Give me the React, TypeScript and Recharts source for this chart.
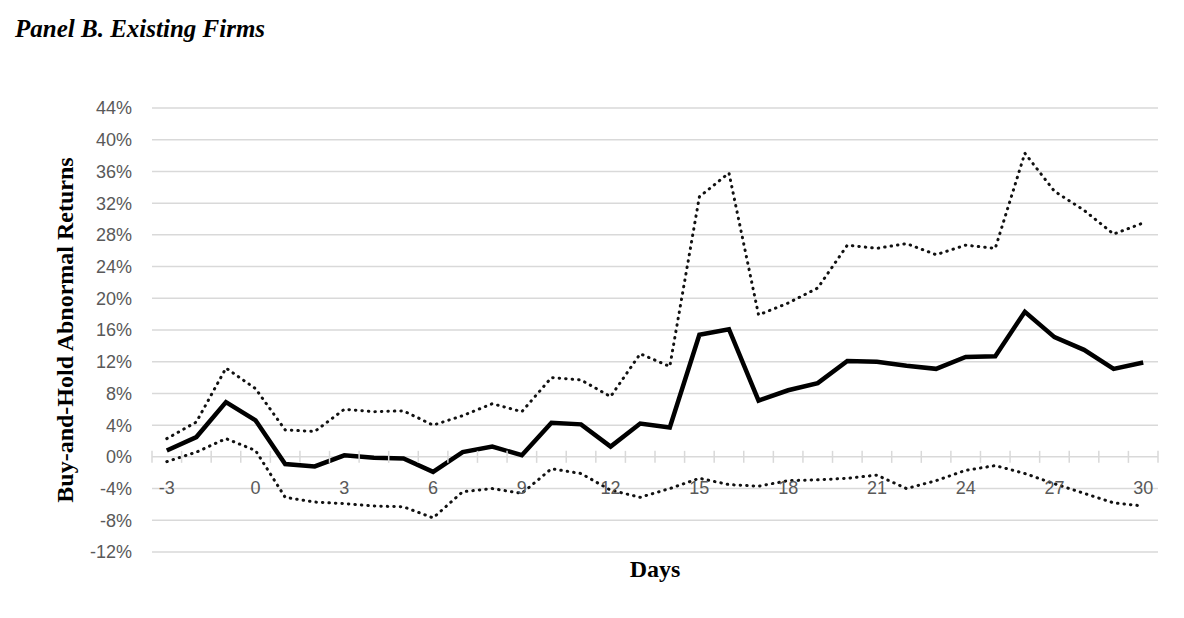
import React from "react";
import { LineChart, Line, XAxis, YAxis, CartesianGrid } from "recharts";

// days relative to the event
const days = [-3, -2, -1, 0, 1, 2, 3, 4, 5, 6, 7, 8, 9, 10, 11, 12, 13, 14, 15, 16, 17, 18, 19, 20, 21, 22, 23, 24, 25, 26, 27, 28, 29, 30];

// buy-and-hold abnormal returns (%), mean
const bhar = [0.8, 2.5, 6.9, 4.6, -0.9, -1.2, 0.2, -0.1, -0.2, -1.9, 0.6, 1.3, 0.2, 4.3, 4.1, 1.3, 4.2, 3.7, 15.4, 16.1, 7.1, 8.4, 9.3, 12.1, 12.0, 11.5, 11.1, 12.6, 12.7, 18.3, 15.1, 13.5, 11.1, 11.9];

// upper and lower confidence bounds (%)
const upper = [2.3, 4.4, 11.2, 8.6, 3.4, 3.2, 6.0, 5.7, 5.8, 4.0, 5.2, 6.7, 5.7, 10.0, 9.7, 7.6, 13.0, 11.4, 32.8, 35.8, 17.9, 19.4, 21.3, 26.7, 26.3, 26.9, 25.5, 26.7, 26.3, 38.3, 33.5, 31.1, 28.1, 29.5];
const lower = [-0.6, 0.6, 2.3, 0.8, -5.1, -5.7, -5.9, -6.2, -6.3, -7.7, -4.4, -4.0, -4.6, -1.5, -2.1, -4.2, -5.1, -4.0, -2.7, -3.5, -3.7, -3.0, -2.9, -2.7, -2.3, -4.0, -3.0, -1.7, -1.1, -2.1, -3.4, -4.6, -5.8, -6.2];

const yTicks = [-12, -8, -4, 0, 4, 8, 12, 16, 20, 24, 28, 32, 36, 40, 44];
const Y_MIN = -12;
const Y_MAX = 44;

const data = days.map((d, i) => ({ day: d, bhar: bhar[i], upper: upper[i], lower: lower[i] }));

const W = 1184;
const H = 618;
const M = { top: 108, right: 26, bottom: 36, left: 0 };
const Y_AXIS_W = 152;
const X_AXIS_H = 30;
const PLOT_W = W - M.left - M.right - Y_AXIS_W;
const PLOT_H = H - M.top - M.bottom - X_AXIS_H;
const ZERO_Y = M.top + (PLOT_H * Y_MAX) / (Y_MAX - Y_MIN);
const BAND = PLOT_W / days.length;

const GRID = "#d9d9d9";
const TICK_TXT = "#595959";
const SERIF = "Liberation Serif, Times New Roman, serif";

// Excel-style category axis drawn on the 0% line, marks between categories
function DayTick(props: any) {
  const { x, payload, index } = props;
  const marks = [x - BAND / 2];
  if (index === days.length - 1) marks.push(x + BAND / 2);
  return (
    <g>
      {marks.map((mx, k) => (
        <line key={k} x1={mx} x2={mx} y1={ZERO_Y - 6} y2={ZERO_Y + 6} stroke={GRID} strokeWidth={1.5} />
      ))}
      {payload.value % 3 === 0 && (
        <text x={x} y={ZERO_Y + 37} textAnchor="middle" fill={TICK_TXT} fontSize={18} fontFamily="Liberation Sans, Arial, sans-serif">
          {payload.value}
        </text>
      )}
    </g>
  );
}

export default function App() {
  return (
    <div style={{ position: "absolute", left: 0, top: 0, width: W, height: H, background: "#fff" }}>
      <div
        style={{
          position: "absolute",
          left: 15,
          top: 15,
          fontFamily: SERIF,
          fontWeight: "bold",
          fontStyle: "italic",
          fontSize: 25,
          color: "#000",
        }}
      >
        Panel B. Existing Firms
      </div>
      <LineChart width={W} height={H} data={data} margin={M}>
        <CartesianGrid vertical={false} stroke={GRID} strokeWidth={1.5} />
        <XAxis
          dataKey="day"
          height={X_AXIS_H}
          interval={0}
          padding={{ left: BAND / 2, right: BAND / 2 }}
          axisLine={false}
          tickLine={false}
          tick={<DayTick />}
          label={{
            value: "Days",
            position: "insideBottom",
            offset: 5,
            fill: "#000",
            fontSize: 24,
            fontWeight: "bold",
            fontFamily: SERIF,
          }}
        />
        <YAxis
          width={Y_AXIS_W}
          domain={[Y_MIN, Y_MAX]}
          ticks={yTicks}
          interval={0}
          tickFormatter={(v) => `${v}%`}
          axisLine={false}
          tickLine={false}
          tickMargin={14}
          tick={{ fill: TICK_TXT, fontSize: 18, fontFamily: "Liberation Sans, Arial, sans-serif" }}
          label={{
            value: "Buy-and-Hold Abnormal Returns",
            angle: -90,
            position: "insideLeft",
            offset: 64,
            fill: "#000",
            fontSize: 24,
            fontWeight: "bold",
            fontFamily: SERIF,
            style: { textAnchor: "middle" },
          }}
        />
        <Line
          type="linear"
          dataKey="upper"
          stroke="#111"
          strokeWidth={3}
          strokeDasharray="0.5 6"
          strokeLinecap="round"
          dot={false}
          isAnimationActive={false}
        />
        <Line
          type="linear"
          dataKey="lower"
          stroke="#111"
          strokeWidth={3}
          strokeDasharray="0.5 6"
          strokeLinecap="round"
          dot={false}
          isAnimationActive={false}
        />
        <Line
          type="linear"
          dataKey="bhar"
          stroke="#000"
          strokeWidth={4.5}
          dot={false}
          isAnimationActive={false}
        />
      </LineChart>
    </div>
  );
}
